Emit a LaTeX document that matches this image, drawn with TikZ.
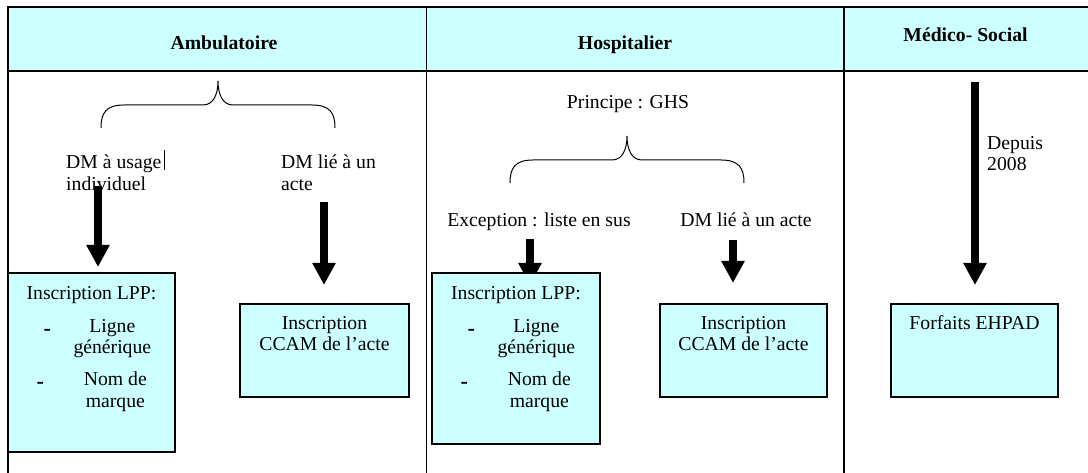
\documentclass[tikz,border=0pt]{standalone}
\usepackage{fontspec}
\setmainfont{Liberation Serif}
\usetikzlibrary{arrows.meta}
\definecolor{paleCyan}{HTML}{CCFFFF}

\begin{document}
\begin{tikzpicture}[x=1pt,y=1pt,> = {Triangle[width=22pt,length=22pt]},
		every node/.style={inner sep=0pt,font=\fontsize{19.7}{21.5}\selectfont},
		titre/.style={anchor=base,font=\fontsize{19.7}{21.5}\selectfont\bfseries},
		tiret/.style={anchor=base,font=\fontsize{22}{22}\selectfont\bfseries},
		cell/.style={line width=1.3pt},
		boite/.style={draw,fill=paleCyan,line width=1.3pt},
		fleche/.style={->,line width=7.5pt},
		accolade/.style={line width=1pt}]
	\useasboundingbox (0,0) rectangle (1088,473);
	% tableau
	\fill[paleCyan] (8,402) rectangle (1088,466);
	\draw[cell] (1088,466)--(8,466)--(8,0)
		(8,402)--(1088,402)
		(426.7,466)--(426.7,0)
		(844,466)--(844,0);
	\node[titre] (amb) at (224,423.5) {Ambulatoire};
	\node[titre] (hosp) at (625,423.5) {Hospitalier};
	\node[titre] (medsoc) at (965.5,431.5) {Médico- Social};
	% accolades
	\foreach \bx/\by in {101/345, 510/290}
		\draw[accolade] (\bx,\by) .. controls +(0,15) and +(-18,0) .. ++(23,23)
			-- ++(79,0) .. controls +(10,0) and +(0,-14) .. ++(15,24)
			.. controls +(0,-14) and +(-10,0) .. ++(15,-24)
			-- ++(79,0) .. controls +(18,0) and +(0,15) .. ++(23,-23);
	% textes
	\node[anchor=north west,align=left] (dmInd) at (66,318) {DM à usage\\individuel};
	\draw[line width=0.8pt] (164,303)--(164,323);
	\node[anchor=north west,align=left] (dmActeA) at (281,318) {DM lié à un\\acte};
	\node[anchor=base] (ghs) at (628,364.5) {Principe : GHS};
	\node[anchor=base] (exception) at (539,246.5) {Exception : liste en sus};
	\node[anchor=base] (dmActeH) at (746,246.5) {DM lié à un acte};
	\node[anchor=north west,align=left] (depuis) at (987,337) {Depuis\\2008};
	% fleches
	\coordinate (f1h) at (98,287);  \coordinate (f1b) at (98,206);
	\coordinate (f2h) at (324,271); \coordinate (f2b) at (324,188);
	\coordinate (f3h) at (530,234); \coordinate (f3b) at (530,188);
	\coordinate (f4h) at (733,233); \coordinate (f4b) at (733,190);
	\coordinate (f5h) at (975,391); \coordinate (f5b) at (975,188);
	\foreach \f in {f1,f2,f3,f4,f5}
		\draw[fleche] (\f h) -- (\f b);
	% boites
	\node[boite,minimum width=167pt,minimum height=179pt] (lppA) at (91.5,110.5) {};
	\node[boite,minimum width=169pt,minimum height=93pt] (ccamA) at (324.5,122.5) {};
	\node[boite,minimum width=168pt,minimum height=171pt] (lppH) at (516,114.5) {};
	\node[boite,minimum width=167pt,minimum height=93pt] (ccamH) at (743.5,122.5) {};
	\node[boite,minimum width=167pt,minimum height=93pt] (ehpad) at (974.5,122.5) {};
	\foreach \b in {lppA,lppH}{
		\node[anchor=north] (\b-titre) at ([yshift=-13.5pt]\b.north) {Inscription LPP:};
		\node[tiret] (\b-tiret1) at ([xshift=40pt,yshift=-63pt]\b.north west) {-};
		\node[anchor=north,align=center] (\b-ligne) at ([xshift=105pt,yshift=-46.5pt]\b.north west) {Ligne\\générique};
		\node[tiret] (\b-tiret2) at ([xshift=33pt,yshift=-116pt]\b.north west) {-};
		\node[anchor=north,align=center] (\b-marque) at ([xshift=108pt,yshift=-99.5pt]\b.north west) {Nom de\\marque};
	}
	\foreach \b in {ccamA,ccamH}
		\node[anchor=north,align=center] (\b-texte) at ([yshift=-12.5pt]\b.north) {Inscription\\CCAM de l’acte};
	\node[anchor=north] (ehpad-texte) at ([yshift=-12.5pt]ehpad.north) {Forfaits EHPAD};
\end{tikzpicture}
\end{document}
